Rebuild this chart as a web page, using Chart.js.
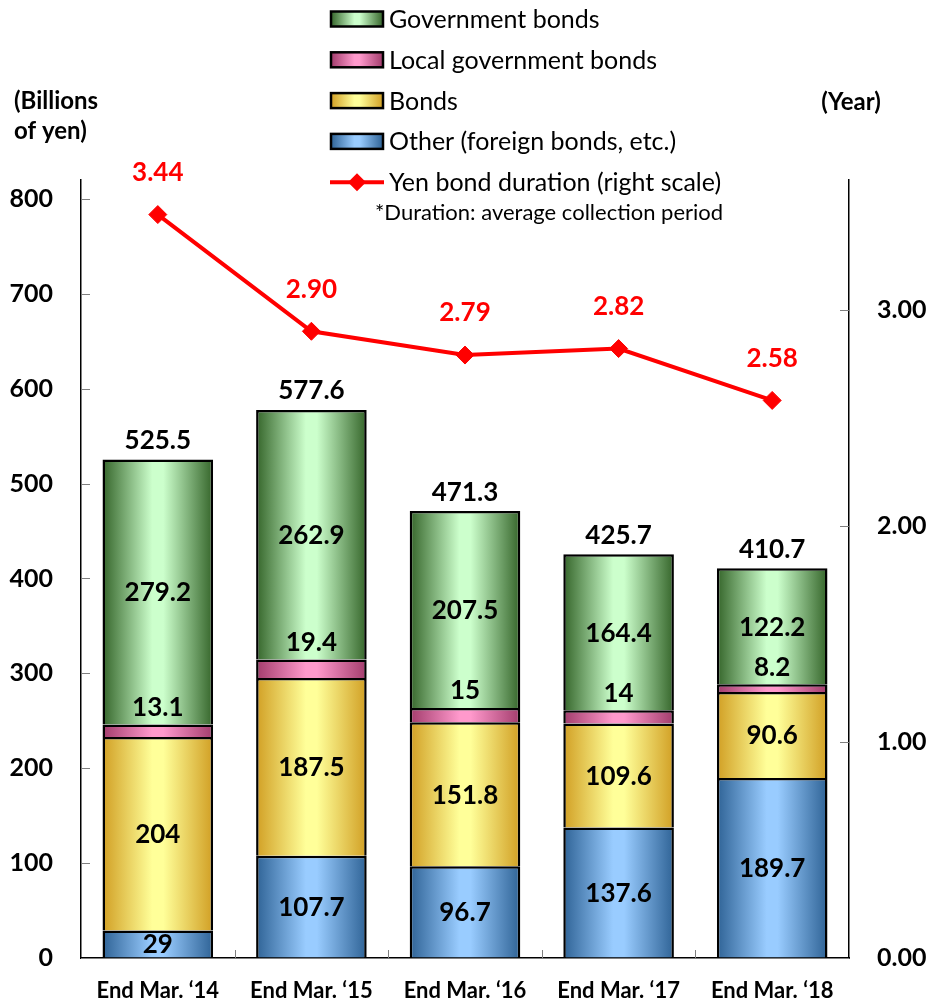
<!DOCTYPE html>
<html><head><meta charset="utf-8">
<script src="https://cdn.jsdelivr.net/npm/chart.js@4/dist/chart.umd.min.js"></script>
<style>html,body{margin:0;padding:0;background:#fff;}#wrap{width:929px;height:1001px;position:relative;}</style>
</head><body><div id="wrap"><canvas id="c" width="929" height="1001"></canvas></div>
<script>
// ---- data ----
const categories = ["End Mar. \u201814", "End Mar. \u201815", "End Mar. \u201816", "End Mar. \u201817", "End Mar. \u201818"];
const otherBonds = [29, 107.7, 96.7, 137.6, 189.7];
const corporateBonds = [204, 187.5, 151.8, 109.6, 90.6];
const localGovBonds = [13.1, 19.4, 15, 14, 8.2];
const govBonds = [279.2, 262.9, 207.5, 164.4, 122.2];
const totals = [525.5, 577.6, 471.3, 425.7, 410.7];
const duration = [3.44, 2.90, 2.79, 2.82, 2.58];
const leftTicks = [0, 100, 200, 300, 400, 500, 600, 700, 800];
const rightTicks = [0, 1, 2, 3];

// ---- styles ----
const FONT = 'Lato';
Chart.defaults.font.family = FONT;
Chart.defaults.color = '#000';
const palette = {
  gov: ['#35652a', '#ccffcc'],
  local: ['#a23c6c', '#ff99cc'],
  bonds: ['#d19f24', '#ffff99'],
  other: ['#2f6396', '#99ccff']
};
const BAR_PCT = 0.72;
function grad(ctx, x0, x1, pair) {
  const g = ctx.createLinearGradient(x0, 0, x1, 0);
  g.addColorStop(0, pair[0]);
  g.addColorStop(0.45, pair[1]);
  g.addColorStop(0.55, pair[1]);
  g.addColorStop(1, pair[0]);
  return g;
}
function barFill(pair) {
  return function (c) {
    const chart = c.chart;
    const xs = chart.scales && chart.scales.x;
    if (!chart.chartArea || !xs || c.dataIndex === undefined) return pair[1];
    const cw = xs.width / categories.length;
    const w = cw * BAR_PCT;
    const cx = xs.getPixelForValue(c.dataIndex);
    if (!isFinite(cx)) return pair[1];
    return grad(chart.ctx, cx - w / 2, cx + w / 2, pair);
  };
}
function barDs(label, data, pair) {
  return {
    label, data, backgroundColor: barFill(pair), borderColor: '#000', borderWidth: 2.5,
    borderSkipped: 'bottom', stack: 's', order: 1, yAxisID: 'y',
    barPercentage: BAR_PCT, categoryPercentage: 1, _pair: pair
  };
}

const decor = {
  id: 'decor',
  afterDatasetsDraw(chart) {
    const ctx = chart.ctx;
    ctx.save();
    ctx.textAlign = 'center';
    ctx.textBaseline = 'middle';
    ctx.fillStyle = '#000';
    ctx.font = 'bold 26px ' + FONT;
    [0, 1, 3].forEach(di => {
      const meta = chart.getDatasetMeta(di);
      meta.data.forEach((el, i) => {
        ctx.fillText(String(chart.data.datasets[di].data[i]), el.x, (el.y + el.base) / 2 + 1);
      });
    });
    chart.getDatasetMeta(2).data.forEach((el, i) => {
      ctx.fillText(String(localGovBonds[i]), el.x, el.y - 17);
    });
    chart.getDatasetMeta(3).data.forEach((el, i) => {
      ctx.fillText(totals[i].toFixed(1), el.x, el.y - 19);
    });
    ctx.fillStyle = '#ff0000';
    chart.getDatasetMeta(4).data.forEach((el, i) => {
      ctx.fillText(duration[i].toFixed(2), el.x, el.y - 42);
    });
    ctx.restore();
  },
  afterDraw(chart) {
    const ctx = chart.ctx;
    const ca = chart.chartArea;
    ctx.save();
    // inward tick marks
    ctx.strokeStyle = '#7f7f7f';
    ctx.lineWidth = 1;
    const ys = chart.scales.y, y2 = chart.scales.y2, xs = chart.scales.x;
    ctx.beginPath();
    leftTicks.forEach(v => { const p = Math.round(ys.getPixelForValue(v)) + 0.5; ctx.moveTo(ca.left, p); ctx.lineTo(ca.left + 9, p); });
    rightTicks.forEach(v => { const p = Math.round(y2.getPixelForValue(v)) + 0.5; ctx.moveTo(ca.right - 9, p); ctx.lineTo(ca.right, p); });
    const cw = xs.width / categories.length;
    for (let i = 1; i < categories.length; i++) {
      const p = Math.round(xs.getPixelForValue(i) - cw / 2) + 0.5;
      ctx.moveTo(p, ca.bottom); ctx.lineTo(p, ca.bottom - 8);
    }
    ctx.stroke();

    // axis titles
    ctx.fillStyle = '#000';
    ctx.font = 'bold 24px ' + FONT;
    ctx.textBaseline = 'middle';
    ctx.textAlign = 'left';
    ctx.fillText('(Billions', 14, 101);
    ctx.fillText('of yen)', 14, 131);
    ctx.textAlign = 'center';
    ctx.fillText('(Year)', 851, 102);

    // legend
    const order = [3, 2, 1, 0];
    const lx = 331, lw = 52, lh = 15, tx = 389;
    ctx.textAlign = 'left';
    ctx.font = '25px ' + FONT;
    order.forEach((di, r) => {
      const ds = chart.data.datasets[di];
      const cy = 19 + r * 40.8;
      ctx.fillStyle = grad(ctx, lx, lx + lw, ds._pair);
      ctx.fillRect(lx, cy - lh / 2, lw, lh);
      ctx.lineWidth = 2.5;
      ctx.strokeStyle = '#000';
      ctx.strokeRect(lx, cy - lh / 2, lw, lh);
      ctx.fillStyle = '#000';
      ctx.fillText(ds.label, tx, cy + 1);
    });
    const lds = chart.data.datasets[4];
    const ly = 19 + 4 * 40.8;
    ctx.strokeStyle = '#ff0000';
    ctx.lineWidth = 4;
    ctx.beginPath(); ctx.moveTo(330, ly); ctx.lineTo(384, ly); ctx.stroke();
    ctx.fillStyle = '#ff0000';
    ctx.beginPath(); ctx.moveTo(357, ly - 9); ctx.lineTo(366, ly); ctx.lineTo(357, ly + 9); ctx.lineTo(348, ly); ctx.closePath(); ctx.fill();
    ctx.fillStyle = '#000';
    ctx.fillText(lds.label, tx, ly + 1);
    ctx.font = '22px ' + FONT;
    ctx.fillText('*Duration: average collection period', 375, 213);
    ctx.restore();
  }
};

new Chart(document.getElementById('c'), {
  type: 'bar',
  data: {
    labels: categories,
    datasets: [
      barDs('Other (foreign bonds, etc.)', otherBonds, palette.other),
      barDs('Bonds', corporateBonds, palette.bonds),
      barDs('Local government bonds', localGovBonds, palette.local),
      barDs('Government bonds', govBonds, palette.gov),
      {
        type: 'line', label: 'Yen bond duration (right scale)', data: duration, yAxisID: 'y2',
        borderColor: '#ff0000', borderWidth: 4, pointStyle: 'rectRot', pointRadius: 9,
        pointBackgroundColor: '#ff0000', pointBorderColor: '#ff0000', pointBorderWidth: 1,
        order: 0, tension: 0, fill: false
      }
    ]
  },
  options: {
    responsive: false,
    animation: false,
    devicePixelRatio: 1,
    layout: { padding: { top: 180, left: 0, right: 0, bottom: 0 } },
    plugins: { legend: { display: false }, tooltip: { enabled: false } },
    scales: {
      x: {
        stacked: true,
        grid: { display: false, drawTicks: false },
        border: { display: true, color: '#000', width: 1.5 },
        ticks: { font: { size: 22, weight: 'bold' }, color: '#000', padding: 20, maxRotation: 0, autoSkip: false },
        afterFit(s) { s.height = 41; }
      },
      y: {
        stacked: true, position: 'left', min: 0, max: 820,
        grid: { drawOnChartArea: false, drawTicks: false },
        border: { display: true, color: '#000', width: 1.5 },
        ticks: { stepSize: 100, includeBounds: false, font: { size: 25, weight: 'bold' }, color: '#000', padding: 28 },
        afterBuildTicks(s) { s.ticks = leftTicks.map(v => ({ value: v })); },
        afterFit(s) { s.width = 81; }
      },
      y2: {
        position: 'right', min: 0, max: 3.6,
        grid: { drawOnChartArea: false, drawTicks: false },
        border: { display: true, color: '#000', width: 1.5 },
        ticks: { stepSize: 1, includeBounds: false, font: { size: 25, weight: 'bold' }, color: '#000', padding: 28,
          callback: v => Number(v).toFixed(2) },
        afterBuildTicks(s) { s.ticks = rightTicks.map(v => ({ value: v })); },
        afterFit(s) { s.width = 80; }
      }
    }
  },
  plugins: [decor]
});
</script></body></html>
